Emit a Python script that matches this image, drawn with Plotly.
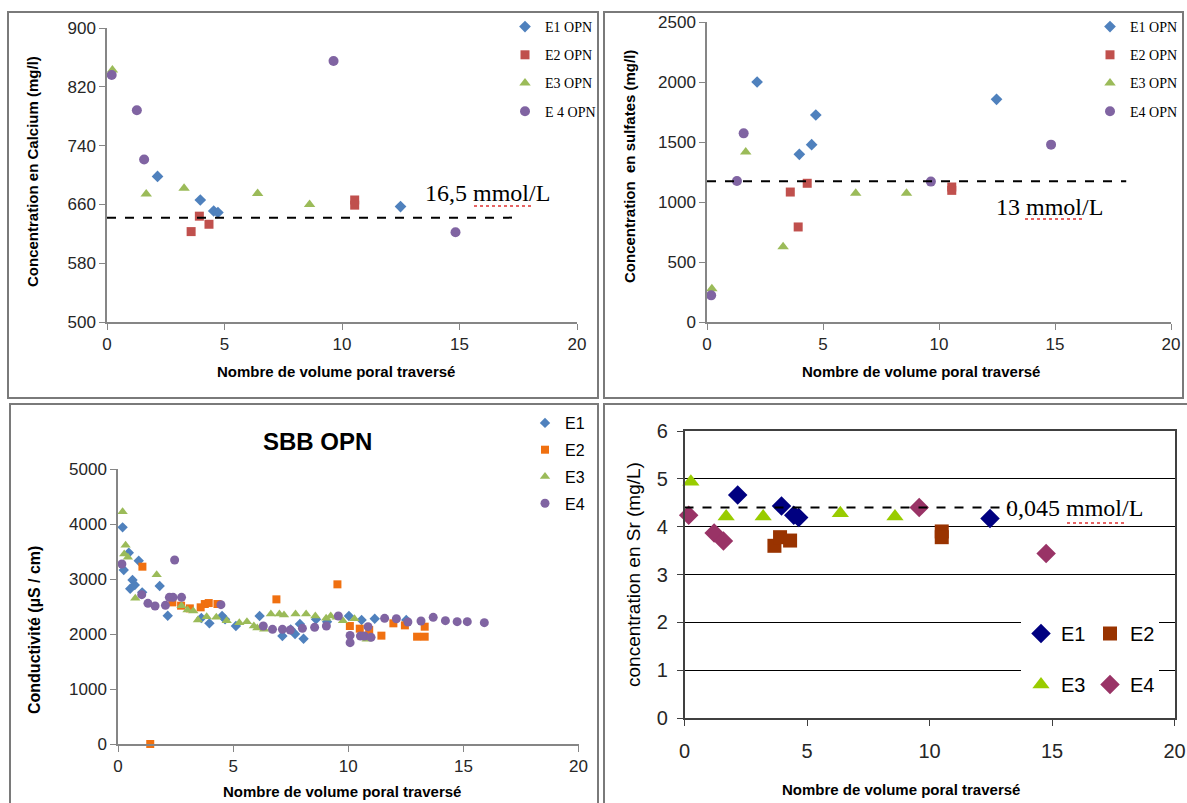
import plotly.graph_objects as go

W, H = 1187, 803

# ---------------- data ----------------
series_names_top = ["E1 OPN", "E2 OPN", "E3 OPN", "E 4 OPN"]
series_names_so4 = ["E1 OPN", "E2 OPN", "E3 OPN", "E4 OPN"]
series_names_bottom = ["E1", "E2", "E3", "E4"]

# Panel 1: calcium (mg/l)
ca_e1_x = [2.15, 3.97, 4.54, 4.72, 12.49]
ca_e1_y = [698, 666, 651, 649, 657]
ca_e2_x = [3.58, 3.93, 4.34, 10.54, 10.54]
ca_e2_y = [623, 644, 633, 666, 659]
ca_e3_x = [0.23, 1.67, 3.28, 6.41, 8.62]
ca_e3_y = [843, 674, 682, 675, 660]
ca_e4_x = [0.2, 1.27, 1.58, 9.64, 14.83]
ca_e4_y = [836, 788, 721, 855, 622]
ca_ref = 642
ca_ref_x = [0, 17.46]
ca_ref_label = "16,5 mmol/L"

# Panel 2: sulfates (mg/l)
so_e1_x = [2.16, 3.98, 4.51, 4.69, 12.48]
so_e1_y = [2000, 1397, 1478, 1725, 1856]
so_e2_x = [3.59, 3.93, 4.32, 10.55, 10.55]
so_e2_y = [1083, 792, 1156, 1125, 1097]
so_e3_x = [0.21, 1.67, 3.28, 6.41, 8.6]
so_e3_y = [278, 1417, 628, 1072, 1072]
so_e4_x = [0.18, 1.29, 1.58, 9.65, 14.83]
so_e4_y = [222, 1175, 1572, 1170, 1478]
so_ref = 1172
so_ref_x = [0, 18.07]
so_ref_label = "13 mmol/L"

# Panel 3: conductivity (µS/cm)
co_e1_x = [0.2, 0.25, 0.47, 0.53, 0.63, 0.73, 0.9, 1.05, 1.81, 2.16, 3.62, 3.97, 4.52, 4.65,
           5.12, 6.15, 7.14, 7.5, 7.69, 7.9, 8.06, 8.6, 9.08, 10.03, 10.58, 11.15, 12.52]
co_e1_y = [3939, 3163, 3478, 2824, 2981, 2890, 3333, 2757, 2872, 2333, 2290, 2194, 2327, 2266,
           2145, 2327, 1963, 2085, 2000, 2182, 1915, 2266, 2224, 2327, 2254, 2278, 2254]
co_e2_x = [1.06, 1.4, 2.36, 2.74, 3.12, 3.59, 3.77, 3.94, 4.32, 6.88, 9.53, 10.07, 10.5, 10.91,
           11.44, 11.96, 12.46, 12.99, 13.32, 13.32]
co_e2_y = [3224, 0, 2575, 2515, 2466, 2485, 2545, 2563, 2545, 2630, 2903, 2145, 2097, 2072,
           1970, 2194, 2157, 1951, 1951, 2133]
co_e3_x = [0.2, 0.27, 0.33, 0.43, 0.75, 1.68, 2.76, 3.02, 3.27, 3.47, 3.85, 4.27, 4.72, 5.27,
           5.6, 5.9, 6.05, 6.35, 6.64, 7.01, 7.21, 7.71, 8.17, 8.57, 9.04, 9.24, 9.5, 9.77, 10.27, 10.8]
co_e3_y = [4224, 3454, 3612, 3394, 2648, 3078, 2515, 2436, 2418, 2254, 2315, 2303, 2242, 2206,
           2224, 2145, 2109, 2085, 2363, 2363, 2345, 2363, 2363, 2327, 2285, 2327, 2303, 2242, 2278, 1903]
co_e4_x = [0.17, 1.03, 1.3, 1.61, 2.06, 2.23, 2.39, 2.46, 2.76, 4.47, 6.31, 6.71, 7.14, 7.48,
           8.01, 8.54, 9.05, 9.57, 10.08, 10.08, 10.53, 10.7, 10.86, 10.99, 11.58, 12.09, 12.59,
           13.16, 13.69, 14.22, 14.73, 15.17, 15.91]
co_e4_y = [3272, 2715, 2557, 2509, 2521, 2666, 2666, 3345, 2666, 2533, 2145, 2085, 2085, 2072,
           2103, 2121, 2145, 2327, 1975, 1842, 1963, 1963, 2133, 1939, 2285, 2278, 2218,
           2236, 2303, 2242, 2224, 2224, 2206]
co_title = "SBB OPN"

# Panel 4: strontium (mg/L)
sr_e1_x = [2.17, 3.96, 4.46, 4.66, 12.47]
sr_e1_y = [4.66, 4.43, 4.24, 4.19, 4.17]
sr_e2_x = [3.67, 3.9, 4.31, 10.5, 10.5]
sr_e2_y = [3.6, 3.78, 3.71, 3.9, 3.78]
sr_e3_x = [0.26, 1.7, 3.21, 6.36, 8.59]
sr_e3_y = [4.94, 4.21, 4.21, 4.28, 4.21]
sr_e4_x = [0.17, 1.21, 1.59, 9.58, 14.76]
sr_e4_y = [4.24, 3.87, 3.7, 4.4, 3.44]
sr_ref = 4.4
sr_ref_x = [0, 13.3]
sr_ref_label = "0,045 mmol/L"

x_title = "Nombre de volume poral traversé"

# ---------------- styles ----------------
SANS = "Liberation Sans, Arial, sans-serif"
SERIF = "Liberation Serif, Times New Roman, serif"
AX = "#868686"
TICKC = "#262626"

fig = go.Figure()

def px_x(p):
    return p / W

def px_y(p):
    return 1 - p / H

# panel geometry (pixels)
P1 = dict(x0=107, x1=577, y0=28, y1=322)
P2 = dict(x0=707, x1=1171, y0=22, y1=322)
P3 = dict(x0=118, x1=578.5, y0=469, y1=744)
P4 = dict(x0=684.5, x1=1174.5, y0=431, y1=718)

def dom(P):
    return [px_x(P["x0"]), px_x(P["x1"])], [px_y(P["y1"]), px_y(P["y0"])]

def add(xs, ys, name, sym, color, size, xa, ya, legend):
    fig.add_trace(go.Scatter(
        x=xs, y=ys, mode="markers", name=name, xaxis=xa, yaxis=ya, legend=legend,
        legendgroup=legend + name,
        marker=dict(symbol=sym, color=color, size=size, line=dict(width=0)),
        cliponaxis=False, showlegend=True))

C_BLUE, C_RED, C_GREEN, C_PURPLE = "#4F81BD", "#C0504D", "#9BBB59", "#8064A2"
C_ORANGE = "#F07010"

# Panel 1
for xs, ys, n, s, c, sz in [
    (ca_e1_x, ca_e1_y, series_names_top[0], "diamond", C_BLUE, 9),
    (ca_e2_x, ca_e2_y, series_names_top[1], "square", C_RED, 9),
    (ca_e3_x, ca_e3_y, series_names_top[2], "triangle-up", C_GREEN, 10),
    (ca_e4_x, ca_e4_y, series_names_top[3], "circle", C_PURPLE, 10)]:
    add(xs, ys, n, s, c, sz, "x", "y", "legend")

# Panel 2
for xs, ys, n, s, c, sz in [
    (so_e1_x, so_e1_y, series_names_so4[0], "diamond", C_BLUE, 9),
    (so_e2_x, so_e2_y, series_names_so4[1], "square", C_RED, 9),
    (so_e3_x, so_e3_y, series_names_so4[2], "triangle-up", C_GREEN, 10),
    (so_e4_x, so_e4_y, series_names_so4[3], "circle", C_PURPLE, 10)]:
    add(xs, ys, n, s, c, sz, "x2", "y2", "legend2")

# Panel 3
for xs, ys, n, s, c, sz in [
    (co_e1_x, co_e1_y, series_names_bottom[0], "diamond", C_BLUE, 8),
    (co_e2_x, co_e2_y, series_names_bottom[1], "square", C_ORANGE, 8),
    (co_e3_x, co_e3_y, series_names_bottom[2], "triangle-up", C_GREEN, 9),
    (co_e4_x, co_e4_y, series_names_bottom[3], "circle", C_PURPLE, 9)]:
    add(xs, ys, n, s, c, sz, "x3", "y3", "legend3")

# Panel 4
for xs, ys, n, s, c, sz, lg in [
    (sr_e1_x, sr_e1_y, series_names_bottom[0], "diamond", "#000080", 15, "legend4"),
    (sr_e2_x, sr_e2_y, series_names_bottom[1], "square", "#993300", 14, "legend4"),
    (sr_e3_x, sr_e3_y, series_names_bottom[2], "triangle-up", "#99CC00", 15, "legend5"),
    (sr_e4_x, sr_e4_y, series_names_bottom[3], "diamond", "#993366", 15, "legend5")]:
    add(xs, ys, n, s, c, sz, "x4", "y4", lg)

# reference dashed lines
for xr, yv, xa, ya in [(ca_ref_x, ca_ref, "x", "y"), (so_ref_x, so_ref, "x2", "y2"),
                       (sr_ref_x, sr_ref, "x4", "y4")]:
    fig.add_trace(go.Scatter(x=xr, y=[yv, yv], mode="lines", xaxis=xa, yaxis=ya,
                             line=dict(color="black", width=2, dash="dash"),
                             showlegend=False, hoverinfo="skip"))

# ---------------- axes ----------------
def xaxis(P, anchor, tickfont=17):
    d, _ = dom(P)
    return dict(domain=d, anchor=anchor, range=[0, 20], tickvals=[0, 5, 10, 15, 20],
                showline=True, linecolor=AX, linewidth=1.5, ticks="outside", ticklen=6,
                tickcolor=AX, showgrid=False, zeroline=False, automargin=False,
                tickfont=dict(family=SANS, size=tickfont, color=TICKC))

def yaxis(P, anchor, rng, dtick, tickfont=17):
    _, d = dom(P)
    return dict(domain=d, anchor=anchor, range=rng, dtick=dtick, tick0=rng[0],
                showline=True, linecolor=AX, linewidth=1.5, ticks="outside", ticklen=6,
                tickcolor=AX, showgrid=False, zeroline=False, automargin=False,
                tickfont=dict(family=SANS, size=tickfont, color=TICKC))

x4 = xaxis(P4, "y4", 20)
x4.update(linecolor="#404040", tickcolor="#404040", mirror=True, ticklabelstandoff=8)
y4 = yaxis(P4, "x4", [0, 6], 1, 20)
y4.update(showgrid=True, gridcolor="black", gridwidth=1, linecolor="#404040",
          tickcolor="#404040", mirror=True, ticklabelstandoff=5)

fig.update_layout(
    xaxis=xaxis(P1, "y"), yaxis=yaxis(P1, "x", [500, 900], 80),
    xaxis2=xaxis(P2, "y2"), yaxis2=yaxis(P2, "x2", [0, 2500], 500),
    xaxis3=xaxis(P3, "y3"), yaxis3=yaxis(P3, "x3", [0, 5000], 1000),
    xaxis4=x4, yaxis4=y4,
)

# ---------------- legends ----------------
def vleg(x, y, fam, size, gap):
    return dict(x=px_x(x), y=px_y(y), xanchor="left", yanchor="top", orientation="v",
                font=dict(family=fam, size=size, color="black"), bgcolor="rgba(0,0,0,0)",
                tracegroupgap=gap, itemwidth=30, borderwidth=0)

def hleg(x, y):
    return dict(x=px_x(x), y=px_y(y), xanchor="left", yanchor="top", orientation="h",
                font=dict(family=SANS, size=20, color="black"), bgcolor="white",
                entrywidth=24, entrywidthmode="pixels", itemwidth=30, borderwidth=0)

fig.update_layout(
    legend=vleg(505, 11, SERIF, 14, 7),
    legend2=vleg(1090, 11, SERIF, 14, 7),
    legend3=vleg(525, 406, SANS, 16, 3),
    legend4=hleg(1021, 614),
    legend5=hleg(1021, 665),
)

# ---------------- annotations ----------------
ann = []
def label(text, x, y, xa, ya, size=24):
    ann.append(dict(text=text, x=x, y=y, xref=xa, yref=ya, showarrow=False,
                    font=dict(family=SERIF, size=size, color="black")))

label(ca_ref_label, 16.2, 676, "x", "y")
label(so_ref_label, 14.77, 958, "x2", "y2")
label(sr_ref_label, 15.93, 4.38, "x4", "y4")

def ptext(text, x, y, size, bold=True, angle=0, fam=SANS):
    ann.append(dict(text=("<b>%s</b>" % text) if bold else text, x=px_x(x), y=px_y(y),
                    xref="paper", yref="paper", showarrow=False, textangle=angle,
                    xanchor="center", yanchor="middle",
                    font=dict(family=fam, size=size, color="black")))

ptext("Concentration en Calcium (mg/l)", 33, 172, 15, angle=-90)
ptext(x_title, 336, 371, 15)
ptext("Concentration  en sulfates (mg/l)", 630, 167, 15, angle=-90)
ptext(x_title, 921, 371, 15)
ptext(co_title, 317, 441, 24)
ptext("Conductivité (µS / cm)", 34, 630, 16, angle=-90)
ptext(x_title, 342, 791, 15)
ptext("concentration en Sr (mg/L)", 633, 575, 19, bold=False, angle=-90)
ptext(x_title, 901, 789, 15)

# panel frames + spell-check squiggles
shapes = []
for x0, y0, x1, y1 in [(8, 12, 598, 398), (604, 12, 1183, 398), (10, 404, 598, 808),
                       (604, 404, 1192, 808)]:
    shapes.append(dict(type="rect", xref="paper", yref="paper", x0=px_x(x0), x1=px_x(x1),
                       y0=px_y(y1), y1=px_y(y0), line=dict(color="#7a7a7a", width=2),
                       layer="below"))
for x0, x1, y in [(474, 534, 206), (1025, 1085, 219), (1067, 1126, 523)]:
    shapes.append(dict(type="line", xref="paper", yref="paper", x0=px_x(x0), x1=px_x(x1),
                       y0=px_y(y), y1=px_y(y), line=dict(color="#e03030", width=1.5, dash="dot")))

fig.update_layout(
    width=W, height=H, margin=dict(l=0, r=0, t=0, b=0, autoexpand=False),
    paper_bgcolor="white", plot_bgcolor="white",
    annotations=ann, shapes=shapes, hovermode=False,
)

fig.write_html("out.html", config={"displayModeBar": False},
               post_script="document.body.style.margin='0';document.body.style.overflow='hidden';")
